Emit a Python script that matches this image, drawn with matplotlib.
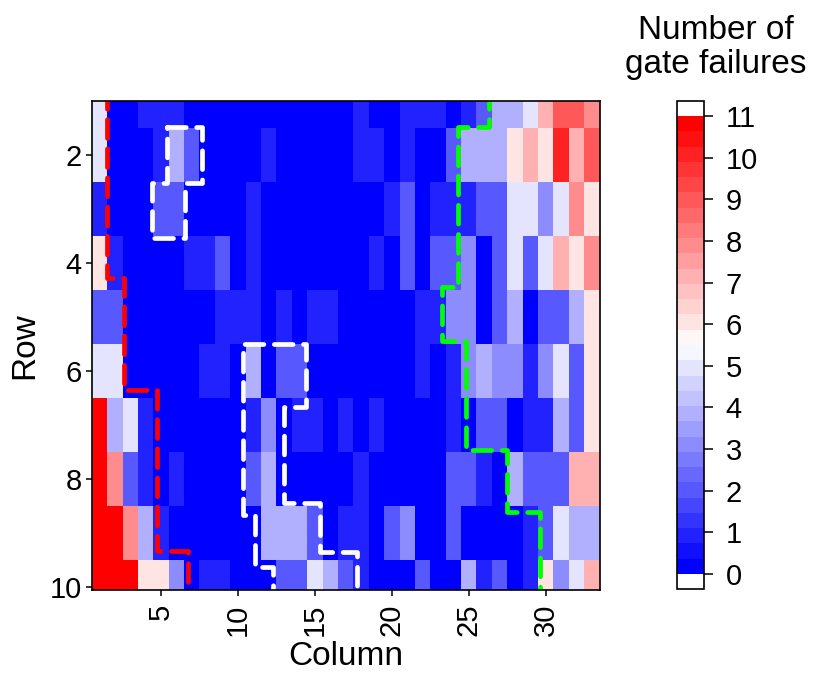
import numpy as np
import matplotlib
matplotlib.use("Agg")
import matplotlib.pyplot as plt
from matplotlib.colors import ListedColormap, Normalize

plt.rcParams['font.family'] = ['Liberation Sans', 'DejaVu Sans']
plt.rcParams['lines.scale_dashes'] = False

# ---- data: gate failures per cell (rows 1..10, columns 1..33) ----
row_1 = [5, 0, 0, 1, 1, 1, 0, 0, 0, 0, 0, 0, 0, 0, 0, 0, 0, 1, 0, 0, 1, 1, 1, 0, 1, 2, 4, 4, 5, 7, 9, 9, 8]
row_2 = [5, 0, 0, 0, 1, 4, 2, 0, 0, 0, 0, 1, 0, 0, 0, 0, 0, 1, 1, 0, 1, 0, 0, 2, 4, 4, 4, 6, 7, 6, 10, 7, 9]
row_3 = [1, 0, 0, 0, 2, 2, 0, 0, 0, 0, 1, 0, 0, 0, 0, 0, 0, 0, 0, 1, 2, 0, 1, 1, 1, 2, 2, 5, 5, 3, 5, 8, 6]
row_4 = [6, 1, 0, 0, 0, 0, 1, 1, 2, 0, 1, 0, 0, 0, 0, 0, 0, 0, 1, 0, 2, 0, 2, 2, 3, 0, 2, 5, 2, 5, 7, 6, 8]
row_5 = [2, 2, 0, 0, 0, 0, 0, 0, 1, 1, 1, 0, 1, 0, 1, 1, 0, 0, 0, 0, 0, 1, 1, 3, 3, 0, 2, 4, 0, 2, 2, 4, 6]
row_6 = [5, 5, 0, 0, 0, 0, 0, 1, 1, 0, 4, 0, 2, 2, 0, 0, 0, 0, 0, 0, 0, 1, 0, 1, 3, 4, 3, 3, 1, 3, 5, 2, 6]
row_7 = [11, 4, 5, 1, 0, 0, 0, 0, 0, 0, 1, 3, 0, 1, 1, 0, 1, 0, 1, 0, 0, 0, 0, 1, 0, 2, 2, 0, 1, 1, 4, 2, 6]
row_8 = [11, 8, 2, 1, 0, 1, 0, 0, 0, 0, 2, 4, 0, 0, 0, 0, 0, 1, 0, 0, 0, 0, 0, 2, 2, 1, 0, 4, 2, 2, 2, 7, 7]
row_9 = [11, 11, 8, 4, 1, 0, 0, 0, 0, 0, 0, 4, 4, 4, 2, 0, 1, 1, 0, 2, 3, 0, 0, 2, 0, 0, 0, 0, 1, 2, 5, 4, 4]
row_10 = [11, 11, 11, 6, 6, 3, 0, 1, 1, 0, 0, 0, 2, 2, 5, 4, 2, 1, 0, 0, 0, 2, 0, 0, 4, 1, 2, 0, 1, 6, 3, 5, 7]

rows = [1, 2, 3, 4, 5, 6, 7, 8, 9, 10]
columns = list(range(1, 34))

# ---- boundary paths (column, row) ----
red_x = [1.51, 1.51, 2.57, 2.57, 4.72, 4.72, 6.77, 6.77]
red_y = [0.8, 4.27, 4.27, 6.35, 6.35, 9.32, 9.32, 10.3]

white_top_x = [5.41, 7.68, 7.68, 6.56, 6.56, 4.39, 4.39, 5.41, 5.41]
white_top_y = [1.48, 1.48, 2.51, 2.51, 3.54, 3.54, 2.51, 2.51, 1.48]

white_mid_x = [12.3, 12.3, 11.1, 11.1, 10.31, 10.31, 14.43, 14.43, 13.0, 13.0, 15.32, 15.32, 17.71, 17.71]
white_mid_y = [10.3, 9.62, 9.62, 8.66, 8.66, 5.49, 5.49, 6.66, 6.66, 8.44, 8.44, 9.34, 9.34, 10.3]

green_x = [26.33, 26.33, 24.28, 24.28, 23.28, 23.28, 24.82, 24.82, 27.48, 27.48, 29.62, 29.62]
green_y = [0.8, 1.48, 1.48, 4.44, 4.44, 5.45, 5.45, 7.46, 7.46, 8.6, 8.6, 10.3]

y_ticks = [2, 4, 6, 8, 10]
x_ticks = [5, 10, 15, 20, 25, 30]
cbar_ticks = list(range(0, 12))

# ---- figure ----
fig = plt.figure(figsize=(8.14, 6.75), dpi=100)
ax = fig.add_axes([0.1127, 0.1259, 0.6239, 0.7245])

Z = np.array([row_1, row_2, row_3, row_4, row_5, row_6, row_7, row_8, row_9, row_10], dtype=float)
x_edges = np.arange(len(columns) + 1) + 0.5
y_edges = np.arange(len(rows) + 1) + 0.5

cmap = ListedColormap(plt.get_cmap('bwr')(np.linspace(0, 1, 30)))
cmap.set_over('white')
cmap.set_under('white')
norm = Normalize(vmin=0, vmax=11)

mesh = ax.pcolormesh(x_edges, y_edges, Z, cmap=cmap, norm=norm, shading='flat')

line_kw = dict(lw=3.4, dashes=(13.5, 7.5), dash_capstyle='round', dash_joinstyle='round')
ax.plot(red_x, red_y, color='#ff0000', **line_kw)
ax.plot(white_top_x, white_top_y, color='white', **line_kw)
ax.plot(white_mid_x, white_mid_y, color='white', **line_kw)
ax.plot(green_x, green_y, color='#00ff00', **line_kw)

ax.set_xlim(0.5, 33.5)
ax.set_ylim(10.05, 1.0)
ax.set_yticks(y_ticks)
ax.set_xticks(x_ticks)
ax.set_xticklabels([str(t) for t in x_ticks], rotation=90)
ax.tick_params(axis='both', labelsize=21, length=4.6, width=1.1, direction='out')
ax.tick_params(axis='x', pad=5)
ax.tick_params(axis='y', pad=2.5)
for s in ax.spines.values():
    s.set_linewidth(1.2)
ax.set_xlabel('Column', fontsize=24, labelpad=4)
ax.set_ylabel('Row', fontsize=24, labelpad=7)

cax = fig.add_axes([0.8317, 0.1274, 0.0332, 0.7230])
cb = fig.colorbar(mesh, cax=cax, extend='both', extendrect=True, extendfrac=0.0328,
                  ticks=cbar_ticks)
cb.ax.tick_params(labelsize=21, length=6.5, width=1.1, pad=9)
cb.outline.set_linewidth(1.2)
fig.text(0.879, 0.978, 'Number of\ngate failures', ha='center', va='top',
         fontsize=24, linespacing=1.15)

fig.savefig('out.png', dpi=100)
